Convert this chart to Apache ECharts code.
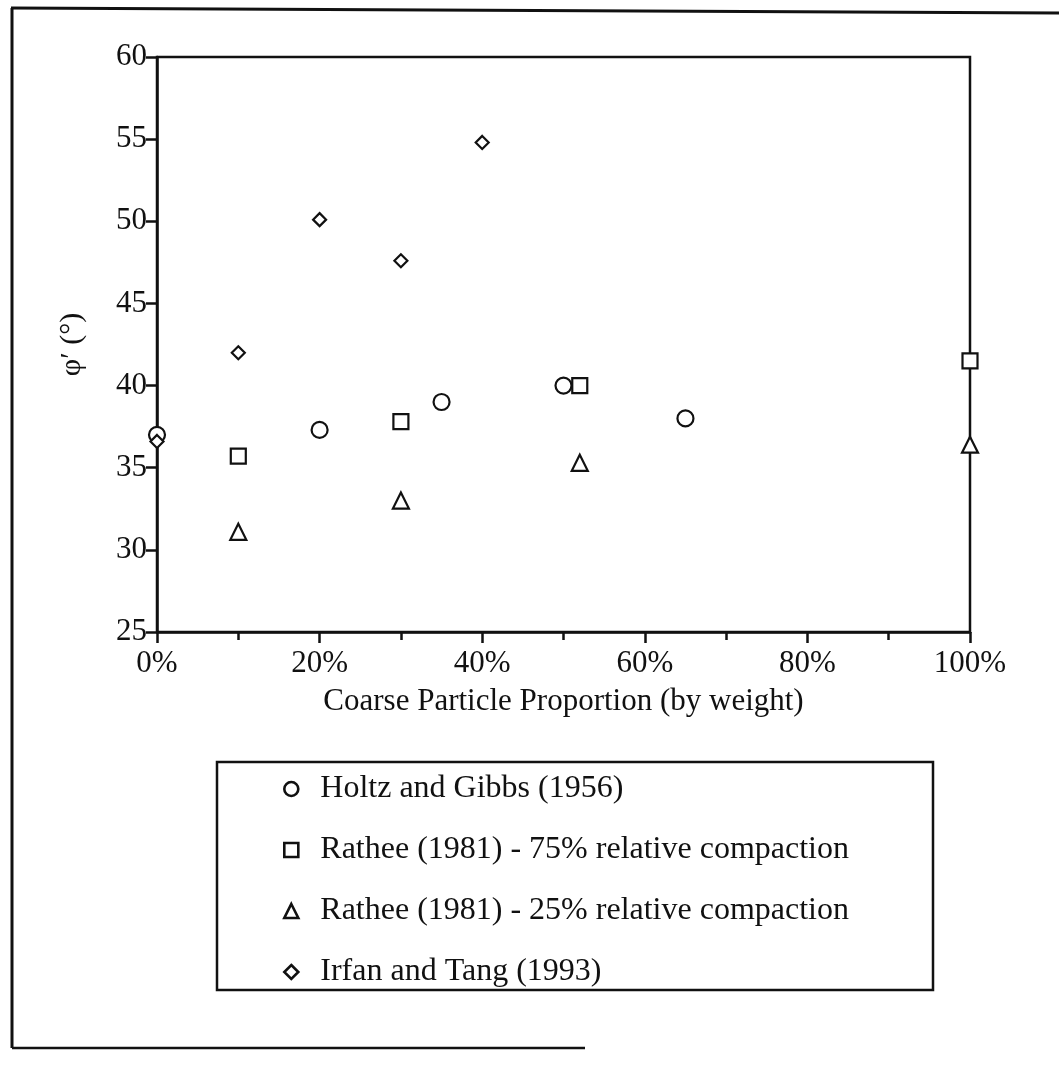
<!DOCTYPE html>
<html>
<head>
<meta charset="utf-8">
<script src="https://cdn.jsdelivr.net/npm/echarts@6/dist/echarts.min.js"></script>
<style>
html,body{margin:0;padding:0;background:#fff;}
#chart{width:1059px;height:1067px;}
</style>
</head>
<body>
<div id="chart"></div>
<script>
// Data (x: coarse proportion in %, y: phi' in degrees)
var seriesNames = [
  'Holtz and Gibbs (1956)',
  'Rathee (1981) - 75% relative compaction',
  'Rathee (1981) - 25% relative compaction',
  'Irfan and Tang (1993)'
];
var holtzGibbs = [[0, 37.0], [20, 37.3], [35, 39.0], [50, 40.0], [65, 38.0]];
var rathee75 = [[10, 35.7], [30, 37.8], [52, 40.0], [100, 41.5]];
var rathee25 = [[10, 31.1], [30, 33.0], [52, 35.3], [100, 36.4]];
var irfanTang = [[0, 36.6], [10, 42.0], [20, 50.1], [30, 47.6], [40, 54.8]];
var xTicks = [0, 20, 40, 60, 80, 100];
var yTicks = [25, 30, 35, 40, 45, 50, 55, 60];

var FONT = '"Liberation Serif", "DejaVu Serif", serif';
var chart = echarts.init(document.getElementById('chart'));

function mk(name, data, symbol, size) {
  return {
    name: name,
    type: 'scatter',
    data: data,
    symbol: symbol,
    symbolSize: size,
    itemStyle: { color: '#fff', borderColor: '#111', borderWidth: 2.2, opacity: 1 },
    emphasis: { disabled: true }
  };
}

chart.setOption({
  backgroundColor: '#fff',
  animation: false,
  grid: {
    left: 157, right: 89, top: 57, bottom: 435,
    show: true, borderColor: '#111', borderWidth: 2.5, backgroundColor: 'transparent'
  },
  xAxis: {
    type: 'value',
    min: xTicks[0], max: xTicks[xTicks.length - 1], interval: 20,
    name: 'Coarse Particle Proportion (by weight)',
    nameLocation: 'middle', nameGap: 54,
    nameTextStyle: { fontFamily: FONT, fontSize: 31, color: '#111' },
    axisLine: { show: true, lineStyle: { color: '#111', width: 2.5 } },
    axisTick: { show: true, length: 11, lineStyle: { color: '#111', width: 2.5 } },
    minorTick: { show: true, splitNumber: 2, length: 8, lineStyle: { color: '#111', width: 2.5 } },
    axisLabel: { formatter: '{value}%', fontFamily: FONT, fontSize: 31, color: '#111', margin: 16 },
    splitLine: { show: false }
  },
  yAxis: {
    type: 'value',
    min: yTicks[0], max: yTicks[yTicks.length - 1], interval: 5,
    name: 'φ′ (°)',
    nameLocation: 'middle', nameGap: 70, nameRotate: 90,
    nameTextStyle: { fontFamily: FONT, fontSize: 30, color: '#111' },
    axisLine: { show: true, lineStyle: { color: '#111', width: 2.5 } },
    axisTick: { show: true, length: 11, lineStyle: { color: '#111', width: 2.5 } },
    axisLabel: { fontFamily: FONT, fontSize: 31, color: '#111', margin: 10 },
    splitLine: { show: false }
  },
  legend: {
    orient: 'vertical',
    left: 278, top: 768,
    itemWidth: 14, itemHeight: 14,
    itemGap: 29,
    selectedMode: false,
    data: seriesNames,
    itemStyle: { borderWidth: 2.6 },
    textStyle: { fontFamily: FONT, fontSize: 32, color: '#111', lineHeight: 32, padding: [0, 0, 0, 17] }
  },
  graphic: [
    { type: 'rect', shape: { x: 217, y: 762, width: 716, height: 228 },
      style: { fill: 'none', stroke: '#111', lineWidth: 2.5 }, z: -1 },
    { type: 'line', shape: { x1: 11, y1: 8, x2: 1059, y2: 13 }, style: { stroke: '#111', lineWidth: 3 } },
    { type: 'line', shape: { x1: 12, y1: 8, x2: 12, y2: 1048 }, style: { stroke: '#111', lineWidth: 3 } },
    { type: 'line', shape: { x1: 12, y1: 1048, x2: 585, y2: 1048 }, style: { stroke: '#111', lineWidth: 2.5 } }
  ],
  series: [
    mk(seriesNames[0], holtzGibbs, 'circle', 16),
    mk(seriesNames[1], rathee75, 'rect', 15),
    mk(seriesNames[2], rathee25, 'triangle', 16),
    mk(seriesNames[3], irfanTang, 'diamond', 13)
  ]
});
</script>
</body>
</html>
